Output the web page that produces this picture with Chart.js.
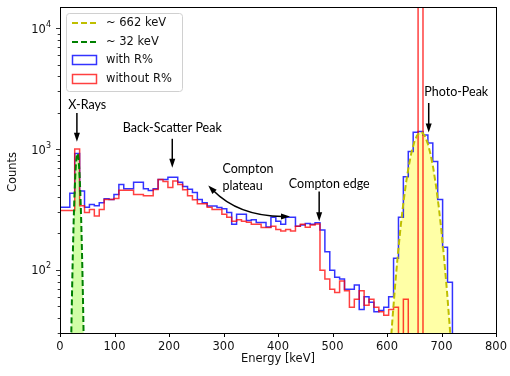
<!DOCTYPE html>
<html>
<head>
<meta charset="utf-8">
<script src="https://cdn.jsdelivr.net/npm/chart.js@4.4.0/dist/chart.umd.min.js"></script>
<style>
  html, body { margin: 0; padding: 0; background: #fff; }
  canvas { display: block; }
</style>
</head>
<body>
<canvas id="spectrum" width="510" height="376"></canvas>
<script>
// histogram bins, keV
var binStart = 0;
var binWidth = 9;

// counts per bin, Cs-137 spectrum
var withR = [
  330, 330, 430, 920, 450, 330, 348, 340, 360, 388,
  382, 421, 508, 470, 470, 530, 530, 470, 453, 470,
  560, 560, 585, 585, 530, 490, 465, 437, 382, 360,
  337, 337, 328, 320, 298, 238, 288, 288, 256, 260,
  247, 247, 226, 272, 253, 238, 272, 272, 230, 235,
  242, 238, 245, 214, 141, 99, 87, 84, 69, 69,
  75, 47, 60, 54, 45, 46, 49, 60, 125, 272,
  590, 955, 1380, 1400, 1310, 1120, 790, 382, 154, 79
];
var withoutR = [
  310, 310, 310, 1000, 340, 298, 316, 279, 316, 382,
  382, 390, 456, 456, 456, 421, 421, 410, 410, 462,
  560, 540, 480, 545, 510, 460, 410, 380, 353, 353,
  330, 316, 316, 288, 272, 253, 260, 253, 248, 238,
  238, 224, 224, 230, 216, 210, 216, 210, 230, 238,
  225, 235, 240, 99, 84, 69, 65, 81, 67, 49,
  57, 67, 51, 57, 49, 45, 42, 47, 49, 0,
  57, 0, 0, 20000, 0, 0, 0, 0, 0, 0
];

// fitted peaks (dashed curves)
var peak662Energy = [600, 605, 610, 615, 620, 625, 630, 635, 640, 645, 650, 655, 660, 662,
  665, 670, 675, 680, 685, 690, 695, 700, 705, 710, 715, 720, 725];
var peak662Counts = [8.8, 19.3, 39.4, 75.6, 136, 228, 359, 529, 730, 944, 1142, 1294, 1373, 1380,
  1364, 1269, 1105, 901, 688, 492, 330, 207, 121, 66.7, 34.3, 16.6, 7.5];
var peak32Energy = [18, 19, 20, 21, 22, 23, 24, 25, 26, 27, 28, 29, 30, 31, 32,
  33, 34, 35, 36, 37, 38, 39, 40, 41, 42, 43, 44, 45, 46];
var peak32Counts = [4.6, 9.5, 18.8, 35, 62, 103, 163, 245, 348, 468, 597, 721, 825, 895, 920,
  895, 825, 721, 597, 468, 348, 245, 163, 103, 62, 35, 18.8, 9.5, 4.6];

var xTicks = [0, 100, 200, 300, 400, 500, 600, 700, 800];
var yDecades = [2, 3, 4];

// log axis can't show empty bins, push them below the frame
var FLOOR = 1;

function histPoints(counts) {
  var pts = [{x: binStart, y: FLOOR}];
  for (var i = 0; i < counts.length; i++) {
    pts.push({x: binStart + i * binWidth, y: counts[i] || FLOOR});
  }
  var end = binStart + counts.length * binWidth;
  pts.push({x: end, y: counts[counts.length - 1] || FLOOR});
  pts.push({x: end, y: FLOOR});
  return pts;
}

function curvePoints(xs, ys) {
  return xs.map(function (x, i) { return {x: x, y: ys[i]}; });
}

var TICK_FONT = '11.5px "DejaVu Sans"';
var NOTE_FONT = '12.5px Lato';

// annotations, in data coordinates (keV, counts)
var notes = [
  {lines: ['X-Rays'], x: 50, y: 2317, align: 'center', arrow: [31, 1990, 31, 1150]},
  {lines: ['Back-Scatter Peak'], x: 206, y: 1497, align: 'center', arrow: [206, 1216, 206, 700]},
  {lines: ['Compton', 'plateau'], x: 298, y: 688, align: 'left', lineGap: 17},
  {lines: ['Compton edge'], x: 494, y: 518, align: 'center', arrow: [475.5, 445, 475.5, 252]},
  {lines: ['Photo-Peak'], x: 727, y: 2965, align: 'center', arrow: [676.5, 2405, 676.5, 1370]}
];
var plateauArrow = {from: [272, 499], ctrl: [328, 275], to: [422, 277]};

function head(ctx, x, y, ang) {
  var len = 9, half = 3;
  ctx.beginPath();
  ctx.moveTo(x, y);
  ctx.lineTo(x - len * Math.cos(ang) + half * Math.sin(ang), y - len * Math.sin(ang) - half * Math.cos(ang));
  ctx.lineTo(x - len * Math.cos(ang) - half * Math.sin(ang), y - len * Math.sin(ang) + half * Math.cos(ang));
  ctx.closePath();
  ctx.fill();
}

var decor = {
  id: 'decor',
  afterDraw: function (chart) {
    var ctx = chart.ctx, a = chart.chartArea;
    var xs = chart.scales.x, ys = chart.scales.y;
    ctx.save();

    // frame
    ctx.strokeStyle = '#000';
    ctx.lineWidth = 1;
    ctx.strokeRect(Math.round(a.left) + 0.5, Math.round(a.top) + 0.5,
      Math.round(a.right - a.left), Math.round(a.bottom - a.top));

    // x tick marks
    ctx.beginPath();
    xTicks.forEach(function (t) {
      var px = Math.round(xs.getPixelForValue(t)) + 0.5;
      ctx.moveTo(px, a.bottom);
      ctx.lineTo(px, a.bottom + 4);
    });
    ctx.stroke();

    // y ticks, major + minor
    ctx.lineWidth = 0.8;
    ctx.beginPath();
    for (var k = 1; k <= 4; k++) {
      for (var m = 1; m <= 9; m++) {
        var v = m * Math.pow(10, k);
        if (v < ys.min || v > ys.max) continue;
        var py = Math.round(ys.getPixelForValue(v)) + 0.5;
        ctx.moveTo(a.left, py);
        ctx.lineTo(a.left - (m === 1 ? 4 : 2.3), py);
      }
    }
    ctx.stroke();

    ctx.fillStyle = '#111';
    yDecades.forEach(function (d) {
      var py = ys.getPixelForValue(Math.pow(10, d));
      ctx.font = '8px "DejaVu Sans"';
      var ew = ctx.measureText(String(d)).width;
      var right = a.left - 9;
      ctx.textAlign = 'left';
      ctx.textBaseline = 'middle';
      ctx.fillText(String(d), right - ew, py - 3.5);
      ctx.font = TICK_FONT;
      ctx.textAlign = 'right';
      ctx.fillText('10', right - ew, py + 1.5);
    });

    // axis titles
    ctx.font = TICK_FONT;
    ctx.textAlign = 'center';
    ctx.textBaseline = 'middle';
    ctx.fillText('Energy [keV]', (a.left + a.right) / 2, 359);
    ctx.save();
    ctx.translate(13, (a.top + a.bottom) / 2 + 2);
    ctx.rotate(-Math.PI / 2);
    ctx.fillText('Counts', 0, 0);
    ctx.restore();

    // legend
    var lx = 66, ly = 13, lw = 116, lh = 78;
    ctx.beginPath();
    ctx.roundRect(lx + 0.5, ly + 0.5, lw, lh, 3);
    ctx.fillStyle = 'rgba(255,255,255,0.85)';
    ctx.fill();
    ctx.strokeStyle = '#d0d0d0';
    ctx.lineWidth = 1;
    ctx.stroke();
    var ds = chart.data.datasets;
    var rows = [23, 42, 60, 79];
    ds.forEach(function (d, i) {
      var ry = rows[i];
      ctx.save();
      ctx.strokeStyle = d.borderColor;
      if (d.stepped) {
        ctx.lineWidth = 1.5;
        ctx.strokeRect(72.5, ry - 4.5, 24, 9);
      } else {
        ctx.lineWidth = 2;
        ctx.setLineDash([6, 3]);
        ctx.beginPath();
        ctx.moveTo(72, ry);
        ctx.lineTo(97, ry);
        ctx.stroke();
      }
      ctx.restore();
      ctx.fillStyle = '#111';
      ctx.font = TICK_FONT;
      ctx.textAlign = 'left';
      ctx.textBaseline = 'middle';
      ctx.fillText(d.label, 106, ry);
    });

    // annotations
    ctx.fillStyle = '#000';
    ctx.strokeStyle = '#000';
    ctx.lineWidth = 1.5;
    ctx.font = NOTE_FONT;
    notes.forEach(function (n) {
      var tx = xs.getPixelForValue(n.x), ty = ys.getPixelForValue(n.y);
      ctx.textAlign = n.align;
      ctx.textBaseline = 'middle';
      n.lines.forEach(function (s, j) {
        ctx.fillText(s, tx, ty + j * (n.lineGap || 0));
      });
      if (n.arrow) {
        var x0 = xs.getPixelForValue(n.arrow[0]), y0 = ys.getPixelForValue(n.arrow[1]);
        var x1 = xs.getPixelForValue(n.arrow[2]), y1 = ys.getPixelForValue(n.arrow[3]);
        var ang = Math.atan2(y1 - y0, x1 - x0);
        ctx.beginPath();
        ctx.moveTo(x0, y0);
        ctx.lineTo(x1 - 7 * Math.cos(ang), y1 - 7 * Math.sin(ang));
        ctx.stroke();
        head(ctx, x1, y1, ang);
      }
    });

    // curved double arrow over the plateau
    var p0 = [xs.getPixelForValue(plateauArrow.from[0]), ys.getPixelForValue(plateauArrow.from[1])];
    var pc = [xs.getPixelForValue(plateauArrow.ctrl[0]), ys.getPixelForValue(plateauArrow.ctrl[1])];
    var p2 = [xs.getPixelForValue(plateauArrow.to[0]), ys.getPixelForValue(plateauArrow.to[1])];
    var a0 = Math.atan2(p0[1] - pc[1], p0[0] - pc[0]);
    var a2 = Math.atan2(p2[1] - pc[1], p2[0] - pc[0]);
    ctx.beginPath();
    ctx.moveTo(p0[0] - 6 * Math.cos(a0), p0[1] - 6 * Math.sin(a0));
    ctx.quadraticCurveTo(pc[0], pc[1], p2[0] - 6 * Math.cos(a2), p2[1] - 6 * Math.sin(a2));
    ctx.stroke();
    head(ctx, p0[0], p0[1], a0);
    head(ctx, p2[0], p2[1], a2);

    ctx.restore();
  }
};

new Chart(document.getElementById('spectrum'), {
  type: 'line',
  data: {
    datasets: [
      {
        label: '~ 662 keV',
        data: curvePoints(peak662Energy, peak662Counts),
        borderColor: '#bfbf00',
        borderWidth: 2,
        borderDash: [6, 3],
        backgroundColor: 'rgba(255,255,0,0.35)',
        fill: 'start',
        pointRadius: 0,
        order: 0
      },
      {
        label: '~ 32 keV',
        data: curvePoints(peak32Energy, peak32Counts),
        borderColor: '#008000',
        borderWidth: 2,
        borderDash: [6, 3],
        backgroundColor: 'rgba(124,252,0,0.35)',
        fill: 'start',
        pointRadius: 0,
        order: 0
      },
      {
        label: 'with R%',
        data: histPoints(withR),
        borderColor: 'rgba(0,0,255,0.8)',
        borderWidth: 1.5,
        stepped: true,
        fill: false,
        pointRadius: 0,
        order: 2
      },
      {
        label: 'without R%',
        data: histPoints(withoutR),
        borderColor: 'rgba(255,0,0,0.75)',
        borderWidth: 1.5,
        stepped: true,
        fill: false,
        pointRadius: 0,
        order: 1
      }
    ]
  },
  options: {
    responsive: false,
    animation: false,
    devicePixelRatio: 1,
    layout: {padding: {top: 7, right: 11, left: 0, bottom: 0}},
    plugins: {
      legend: {display: false},
      tooltip: {enabled: false},
      filler: {drawTime: 'beforeDatasetsDraw'}
    },
    scales: {
      x: {
        type: 'linear',
        min: 0,
        max: 800,
        afterFit: function (s) { s.height = 43; },
        border: {display: false},
        grid: {display: true, drawOnChartArea: false, drawTicks: true, tickLength: 4, color: 'rgba(0,0,0,0)'},
        ticks: {stepSize: 100, autoSkip: false, maxRotation: 0, padding: 3, color: '#111',
          font: {family: 'DejaVu Sans', size: 11.5}}
      },
      y: {
        type: 'logarithmic',
        min: 30,
        max: 15000,
        afterFit: function (s) { s.width = 60; },
        border: {display: false},
        grid: {display: false},
        ticks: {display: false}
      }
    }
  },
  plugins: [decor]
});
</script>
</body>
</html>
